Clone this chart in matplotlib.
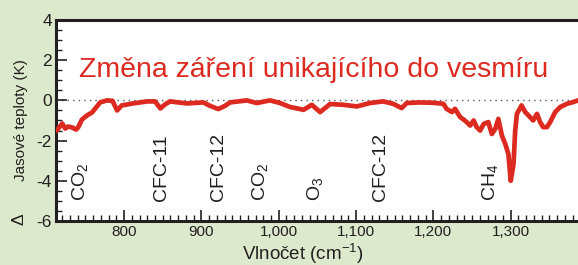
import matplotlib
matplotlib.use("Agg")
import matplotlib.pyplot as plt
from matplotlib.ticker import MultipleLocator, FuncFormatter

plt.rcParams['font.family'] = ['Liberation Sans', 'DejaVu Sans']
plt.rcParams['axes.unicode_minus'] = False
plt.rcParams['mathtext.fontset'] = 'custom'
plt.rcParams['mathtext.rm'] = 'Liberation Sans'
plt.rcParams['mathtext.it'] = 'Liberation Sans:italic'
plt.rcParams['mathtext.default'] = 'rm'

# ---- data ----
wavenumber = [713, 720, 724, 727.5, 733, 738, 740.5, 745.6, 752, 758.6, 765, 769, 778, 785,
              791, 797, 811.6, 830, 840, 847, 853, 859.5, 881, 902.6, 911, 922, 930.6, 937,
              958.7, 971.6, 988.8, 1001.7, 1014.7, 1027.6, 1032, 1042.8, 1053.5, 1066.5,
              1083.7, 1101, 1118, 1135, 1148, 1159, 1165.6, 1183, 1200, 1213, 1217, 1224,
              1228, 1234.6, 1239, 1243, 1247.6, 1252, 1256, 1260.5, 1265, 1271, 1275.6, 1280,
              1284, 1288.6, 1293, 1297, 1300, 1303.6, 1305.8, 1308, 1314, 1318.7, 1325, 1329,
              1334, 1338, 1342, 1346.8, 1351, 1357.5, 1364, 1372.6, 1381, 1387]
delta_T = [-1.5, -1.15, -1.4, -1.3, -1.35, -1.45, -1.35, -0.95, -0.75, -0.6, -0.3, -0.1, 0.0, -0.02,
           -0.5, -0.25, -0.15, -0.05, -0.05, -0.4, -0.2, -0.05, -0.15, -0.1, -0.27, -0.43, -0.27, -0.1,
           0.0, -0.13, 0.0, -0.13, -0.33, -0.43, -0.47, -0.22, -0.58, -0.18,
           -0.22, -0.3, -0.13, -0.05, -0.17, -0.38, -0.13, -0.1, -0.12, -0.17, -0.42, -0.58,
           -0.42, -0.83, -0.95, -1.08, -1.25, -1.0, -1.33, -1.5, -1.17, -1.08, -1.67, -1.42,
           -0.92, -1.75, -2.17, -2.67, -4.0, -3.17, -1.5, -0.67, -0.25, -0.58, -0.83, -1.0,
           -0.67, -1.08, -1.33, -1.33, -1.08, -0.58, -0.33, -0.17, -0.08, 0.0]

gas_labels = ['CO$_2$', 'CFC-11', 'CFC-12', 'CO$_2$', 'O$_3$', 'CFC-12', 'CH$_4$']
gas_positions = [743, 849, 921.6, 976, 1047, 1132, 1273]

title_text = 'Změna záření unikajícího do vesmíru'
ylabel_text = 'Jasové teploty (K)'
xlabel_text = 'Vlnočet (cm$^{-1}$)'

# ---- styling ----
bg = '#dde9cc'
red = '#dc2a20'
dark = '#231f20'

fig = plt.figure(figsize=(5.78, 2.65), dpi=100, facecolor=bg)
ax = fig.add_axes([56/578, 44/265, 522/578, 201/265])
ax.set_facecolor('white')

ax.axhline(0, color='#555555', linestyle=(0, (1, 3)), linewidth=1.0, zorder=1)
ax.plot(wavenumber, delta_T, color=red, linewidth=3.4, solid_joinstyle='round',
        solid_capstyle='round', zorder=3)

ax.set_xlim(712, 1387)
ax.set_ylim(-6, 4)

ax.xaxis.set_major_locator(MultipleLocator(100))
ax.xaxis.set_minor_locator(MultipleLocator(10))
ax.yaxis.set_major_locator(MultipleLocator(2))
ax.yaxis.set_minor_locator(MultipleLocator(0.5))
ax.xaxis.set_major_formatter(FuncFormatter(lambda v, p: f'{int(v):,}'))

ax.tick_params(axis='both', which='major', direction='in', length=8, width=1.2, color=dark)
ax.tick_params(axis='both', which='minor', direction='in', length=4.5, width=1.0, color=dark)
ax.tick_params(axis='x', which='major', labelsize=11, labelcolor=dark, pad=3)
ax.tick_params(axis='y', which='major', labelsize=12.5, labelcolor=dark, pad=3)
ax.tick_params(top=False, right=False, which='both')

for side in ['left', 'bottom', 'top']:
    ax.spines[side].set_linewidth(2.2)
    ax.spines[side].set_color(dark)
ax.spines['right'].set_visible(False)

for lab, pos in zip(gas_labels, gas_positions):
    ax.text(pos, -5.0, lab, rotation=90, ha='center', va='bottom', fontsize=14, color=dark)

fig.text(79/578, 1 - 77/265, title_text, color=red, fontsize=20.5, ha='left', va='baseline')
fig.text(21/578, 1 - 120/265, ylabel_text, rotation=90, ha='center', va='center',
         fontsize=11, color=dark)
fig.text(19/578, 1 - 219/265, 'Δ', rotation=90, ha='center', va='center', fontsize=12.5, color=dark)
fig.text(303/578, 1 - 254/265, xlabel_text, ha='center', va='center', fontsize=13.5, color=dark)

fig.savefig('out.png', dpi=100, facecolor=bg)
